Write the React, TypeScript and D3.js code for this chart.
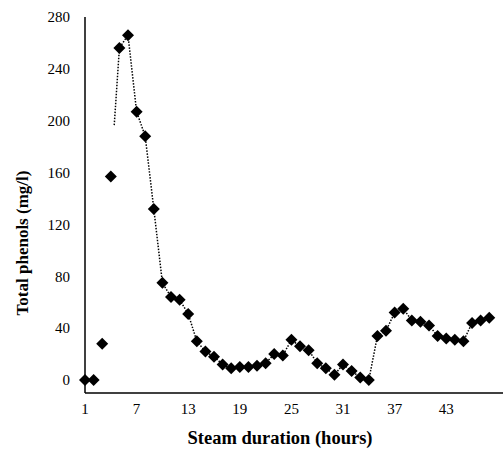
import React from "react";
import * as d3 from "d3";

const hours = d3.range(1, 49);
const phenols = [
  0, 0, 28, 157, 256, 266, 207, 188, 132, 75, 64, 62, 51, 30, 22, 18, 12, 9, 10, 10, 11, 13, 20, 19,
  31, 26, 23, 13, 9, 4, 12, 7, 2, 0, 34, 38, 52, 55, 46, 45, 42, 34, 32, 31, 30, 44, 46, 48,
];
const xTicks = [1, 7, 13, 19, 25, 31, 37, 43];
const yTicks = [0, 40, 80, 120, 160, 200, 240, 280];

const W = 504;
const H = 449;

const App = () => {
  const x = d3.scaleLinear().domain([1, 49.6]).range([85, 503]);
  const y = d3.scaleLinear().domain([-10, 280]).range([393, 17]);

  const data = hours.map((h, i) => ({ h, v: phenols[i] }));

  // trend line only shows from part way between hour 4 and 5 onwards
  const start = d3.interpolateObject(data[3], data[4])(0.4);
  const lineData = [start, ...data.slice(4)];
  const line = d3
    .line<{ h: number; v: number }>()
    .x(d => x(d.h))
    .y(d => y(d.v));

  const r = 6;
  const diamond = `M0,${-r}L${r},0L0,${r}L${-r},0Z`;

  return (
    <svg
      width={W}
      height={H}
      style={{ position: "absolute", left: 0, top: 0, background: "#fff" }}
      fontFamily="'Liberation Serif', 'Times New Roman', serif"
    >
      <line x1={85} x2={85} y1={y(280)} y2={y(-10)} stroke="#000" strokeWidth={1.5} />
      <line x1={85} x2={503} y1={y(-10)} y2={y(-10)} stroke="#000" strokeWidth={1.5} />

      {yTicks.map(t => (
        <text key={t} x={70} y={y(t)} dy="0.35em" textAnchor="end" fontSize={15}>
          {t}
        </text>
      ))}
      {xTicks.map(t => (
        <text key={t} x={x(t)} y={414} textAnchor="middle" fontSize={15}>
          {t}
        </text>
      ))}

      <path
        d={line(lineData) || ""}
        fill="none"
        stroke="#000"
        strokeWidth={1.5}
        strokeDasharray="1.5 1.5"
      />

      {data.map(d => (
        <path key={d.h} d={diamond} transform={`translate(${x(d.h)},${y(d.v)})`} fill="#000" />
      ))}

      <text x={280} y={444} textAnchor="middle" fontSize={18.5} fontWeight="bold">
        Steam duration (hours)
      </text>
      <text
        transform="translate(28,243) rotate(-90)"
        textAnchor="middle"
        fontSize={17}
        fontWeight="bold"
      >
        Total phenols (mg/l)
      </text>
    </svg>
  );
};

export default App;
